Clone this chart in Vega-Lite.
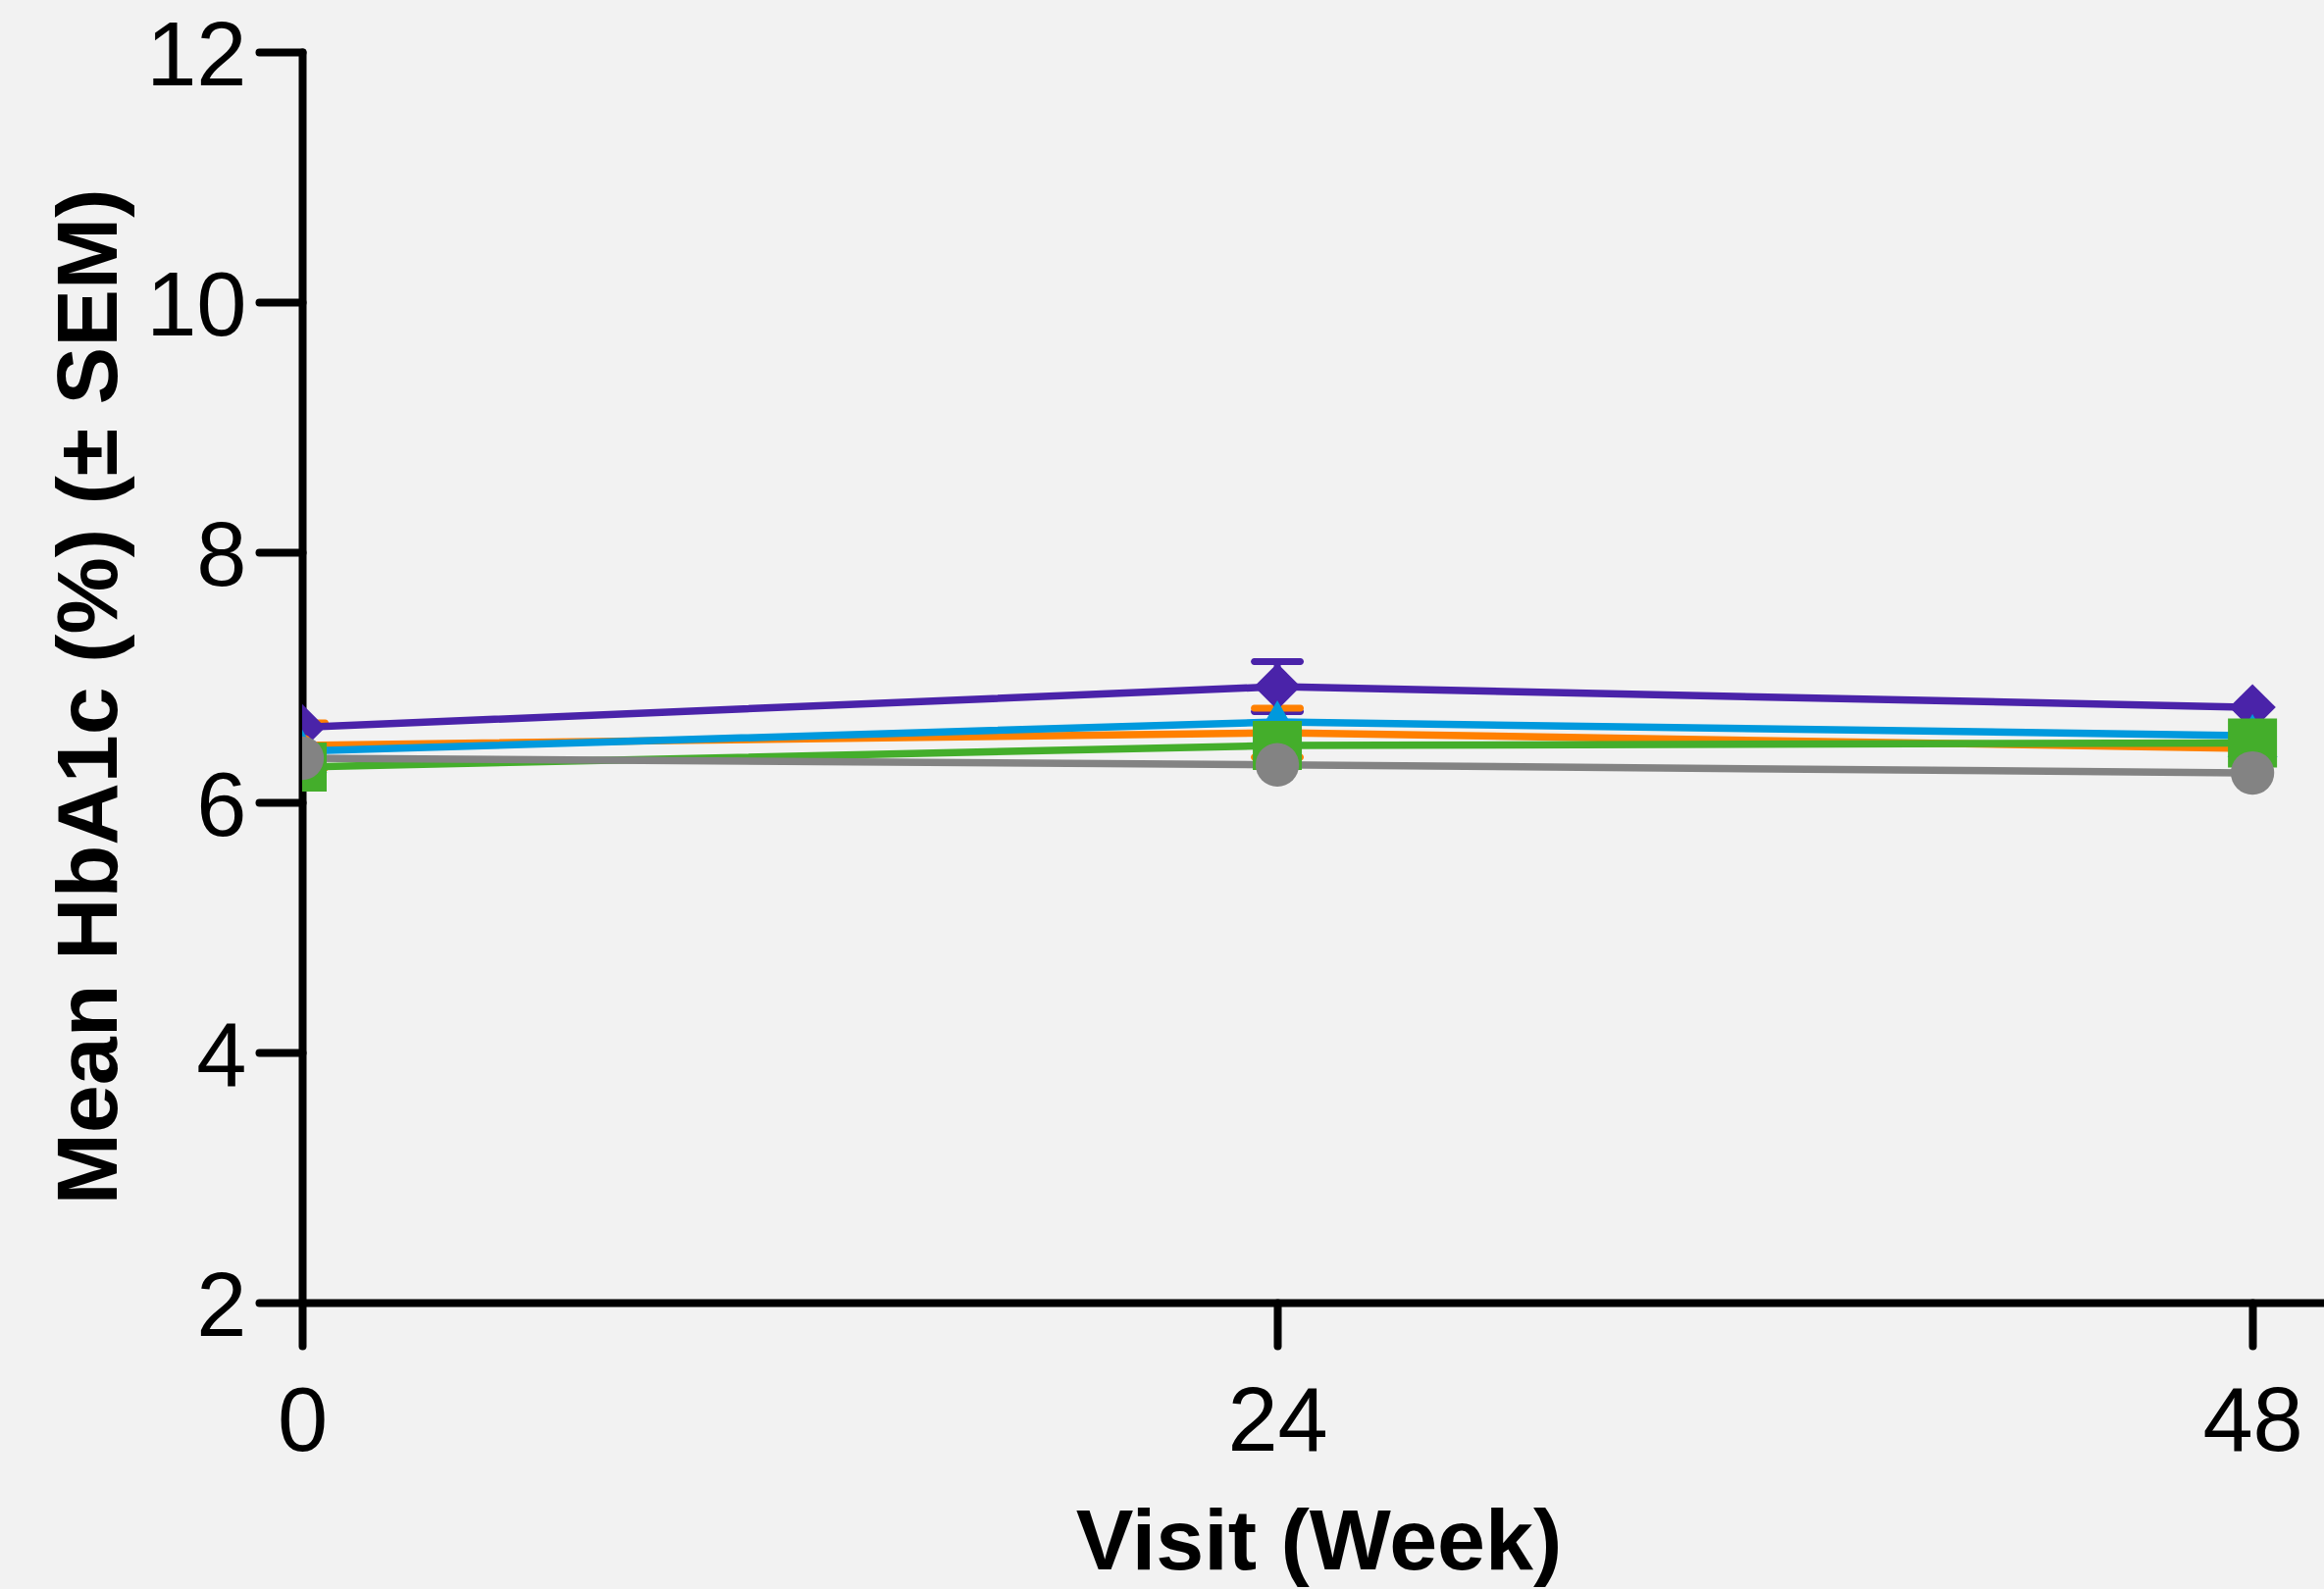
{
  "$schema": "https://vega.github.io/schema/vega-lite/v6.json",
  "width": 2061,
  "height": 1275,
  "autosize": "none",
  "padding": {"left": 308, "top": 53, "right": 0, "bottom": 292},
  "background": "#f2f2f2",
  "config": {"view": {"stroke": null}, "font": "Liberation Sans"},
  "data": {
    "values": [
      {"group": "Group A", "week": 0, "mean": 6.6, "sem": null},
      {"group": "Group A", "week": 24, "mean": 6.925, "sem": 0.2},
      {"group": "Group A", "week": 48, "mean": 6.76, "sem": null},
      {"group": "Group B", "week": 0, "mean": 6.455, "sem": 0.18},
      {"group": "Group B", "week": 24, "mean": 6.557, "sem": 0.196},
      {"group": "Group B", "week": 48, "mean": 6.431, "sem": null},
      {"group": "Group C", "week": 0, "mean": 6.41, "sem": null},
      {"group": "Group C", "week": 24, "mean": 6.643, "sem": null},
      {"group": "Group C", "week": 48, "mean": 6.533, "sem": null},
      {"group": "Group D", "week": 0, "mean": 6.282, "sem": null},
      {"group": "Group D", "week": 24, "mean": 6.455, "sem": null},
      {"group": "Group D", "week": 48, "mean": 6.475, "sem": null},
      {"group": "Group E", "week": 0, "mean": 6.353, "sem": null},
      {"group": "Group E", "week": 24, "mean": 6.3, "sem": null},
      {"group": "Group E", "week": 48, "mean": 6.235, "sem": null}
    ]
  },
  "encoding": {
    "x": {
      "field": "week", "type": "quantitative",
      "scale": {"domain": [0, 49.76], "nice": false, "zero": false},
      "axis": {
        "values": [0, 24, 48], "grid": false, "labelFlush": false,
        "domainColor": "#000000", "domainWidth": 8,
        "tickColor": "#000000", "tickWidth": 8, "tickSize": 44, "tickCap": "round",
        "labelFont": "Liberation Sans", "labelFontSize": 92, "labelColor": "#000000", "labelPadding": 33,
        "title": "Visit (Week)", "titleFont": "Liberation Sans", "titleFontSize": 88, "titleFontWeight": "bold",
        "titleColor": "#000000", "titleX": 1036, "titleY": 271, "titleBaseline": "alphabetic", "titleAlign": "center"
      }
    },
    "y": {
      "field": "mean", "type": "quantitative",
      "scale": {"domain": [2, 12], "nice": false, "zero": false},
      "axis": {
        "values": [2, 4, 6, 8, 10, 12], "grid": false,
        "domainColor": "#000000", "domainWidth": 8, "domainCap": "round",
        "tickColor": "#000000", "tickWidth": 8, "tickSize": 44, "tickCap": "round",
        "labelFont": "Liberation Sans", "labelFontSize": 92, "labelColor": "#000000", "labelPadding": 13,
        "labelBaseline": "alphabetic", "labelOffset": 33,
        "title": "Mean HbA1c (%) (± SEM)", "titleFont": "Liberation Sans", "titleFontSize": 88, "titleFontWeight": "bold",
        "titleColor": "#000000", "titleAngle": 270, "titleX": -190, "titleY": 657, "titleBaseline": "alphabetic", "titleAlign": "center"
      }
    },
    "color": {
      "field": "group", "type": "nominal",
      "scale": {"domain": ["Group A", "Group B", "Group C", "Group D", "Group E"],
                "range": ["#4a23a9", "#ff8000", "#0099dd", "#44ae2b", "#838383"]},
      "legend": null
    }
  },
  "layer": [
    {
      "transform": [{"filter": "isValid(datum.sem)"}],
      "mark": {"type": "errorbar", "clip": true, "thickness": 7, "opacity": 1,
               "rule": {"opacity": 1},
               "ticks": {"size": 54, "thickness": 7, "cornerRadius": 3.5, "opacity": 1}},
      "encoding": {"yError": {"field": "sem"}}
    },
    {
      "mark": {"type": "line", "strokeWidth": 7.5, "clip": true}
    },
    {
      "mark": {"type": "point", "filled": true, "opacity": 1, "strokeWidth": 0, "clip": true},
      "encoding": {
        "shape": {"field": "group", "type": "nominal",
                  "scale": {"domain": ["Group A", "Group B", "Group C", "Group D", "Group E"],
                            "range": ["diamond", "circle", "triangle-up", "square", "circle"]},
                  "legend": null},
        "size": {"field": "group", "type": "nominal",
                 "scale": {"type": "ordinal", "domain": ["Group A", "Group B", "Group C", "Group D", "Group E"],
                           "range": [2250, 500, 2600, 2500, 1963]},
                 "legend": null}
      }
    }
  ]
}
